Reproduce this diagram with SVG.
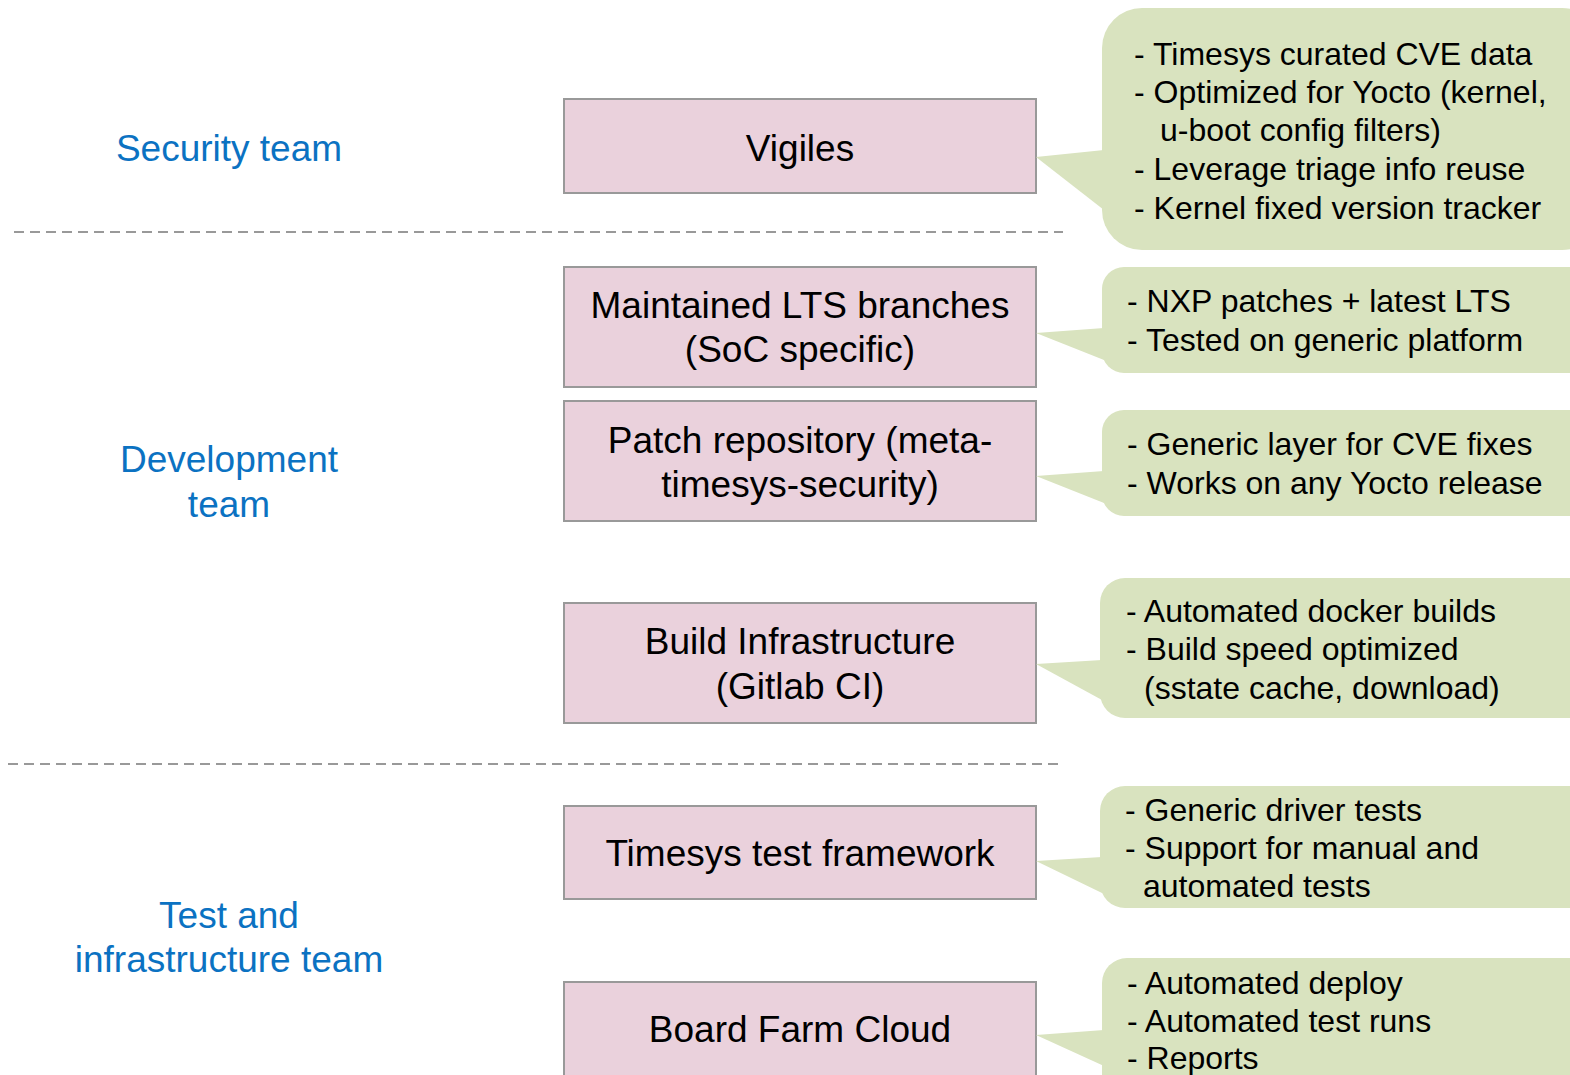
<svg xmlns="http://www.w3.org/2000/svg" width="1570" height="1075" viewBox="0 0 1570 1075">
<style>
.node{fill:#ead1dc;stroke:#999999;stroke-width:2}
.call{fill:#d9e3bf;stroke:none}
.nt{font-family:"Liberation Sans",Arial,sans-serif;font-size:37px;fill:#000;text-anchor:middle}
.ct{font-family:"Liberation Sans",Arial,sans-serif;font-size:32px;fill:#000}
.team{font-family:"Liberation Sans",Arial,sans-serif;font-size:37px;fill:#0b72c2;text-anchor:middle}
.sep{stroke:#999999;stroke-width:2;stroke-dasharray:10 6;fill:none}
</style>
<rect width="1570" height="1075" fill="#ffffff"/>
<g id="connectors">
<line class="sep" x1="14" y1="232" x2="1063" y2="232"/>
<line class="sep" x1="8" y1="764" x2="1058" y2="764"/>
</g>
<g id="team-security"><text class="team" x="229" y="161">Security team</text></g>
<g id="team-development"><text class="team" x="229" y="472">Development</text><text class="team" x="229" y="517">team</text></g>
<g id="team-test"><text class="team" x="229" y="928">Test and</text><text class="team" x="229" y="972">infrastructure team</text></g>

<g id="node-vigiles"><rect class="node" x="564" y="99" width="472" height="94"/><text class="nt" x="800" y="161">Vigiles</text></g>
<g id="node-lts"><rect class="node" x="564" y="267" width="472" height="120"/><text class="nt" x="800" y="318">Maintained LTS branches</text><text class="nt" x="800" y="362">(SoC specific)</text></g>
<g id="node-patch"><rect class="node" x="564" y="401" width="472" height="120"/><text class="nt" x="800" y="453">Patch repository (meta-</text><text class="nt" x="800" y="497">timesys-security)</text></g>
<g id="node-build"><rect class="node" x="564" y="603" width="472" height="120"/><text class="nt" x="800" y="654">Build Infrastructure</text><text class="nt" x="800" y="699">(Gitlab CI)</text></g>
<g id="node-testfw"><rect class="node" x="564" y="806" width="472" height="93"/><text class="nt" x="800" y="866">Timesys test framework</text></g>
<g id="node-boardfarm"><rect class="node" x="564" y="982" width="472" height="100"/><text class="nt" x="800" y="1042">Board Farm Cloud</text></g>

<g id="callout-vigiles">
<rect class="call" x="1102" y="8" width="500" height="242" rx="40" ry="40"/>
<polygon class="call" points="1104,150 1036,157 1104,210"/>
<text class="ct" x="1134" y="65">- Timesys curated CVE data</text>
<text class="ct" x="1134" y="103">- Optimized for Yocto (kernel,</text>
<text class="ct" x="1160" y="141">u-boot config filters)</text>
<text class="ct" x="1134" y="180">- Leverage triage info reuse</text>
<text class="ct" x="1134" y="219">- Kernel fixed version tracker</text>
</g>
<g id="callout-lts">
<rect class="call" x="1102" y="267" width="500" height="106" rx="22" ry="22"/>
<polygon class="call" points="1104,328 1036,333 1104,360"/>
<text class="ct" x="1127" y="312">- NXP patches + latest LTS</text>
<text class="ct" x="1127" y="351">- Tested on generic platform</text>
</g>
<g id="callout-patch">
<rect class="call" x="1102" y="410" width="500" height="106" rx="22" ry="22"/>
<polygon class="call" points="1104,471 1036,476 1104,503"/>
<text class="ct" x="1127" y="455">- Generic layer for CVE fixes</text>
<text class="ct" x="1127" y="494">- Works on any Yocto release</text>
</g>
<g id="callout-build">
<rect class="call" x="1100" y="578" width="500" height="140" rx="25" ry="25"/>
<polygon class="call" points="1102,660 1036,664 1102,700"/>
<text class="ct" x="1126" y="622">- Automated docker builds</text>
<text class="ct" x="1126" y="660">- Build speed optimized</text>
<text class="ct" x="1144" y="699">(sstate cache, download)</text>
</g>
<g id="callout-testfw">
<rect class="call" x="1100" y="786" width="500" height="122" rx="25" ry="25"/>
<polygon class="call" points="1102,857 1036,861 1102,893"/>
<text class="ct" x="1125" y="821">- Generic driver tests</text>
<text class="ct" x="1125" y="859">- Support for manual and</text>
<text class="ct" x="1143" y="897">automated tests</text>
</g>
<g id="callout-boardfarm">
<rect class="call" x="1102" y="958" width="500" height="140" rx="25" ry="25"/>
<polygon class="call" points="1104,1030 1036,1035 1104,1066"/>
<text class="ct" x="1127" y="994">- Automated deploy</text>
<text class="ct" x="1127" y="1032">- Automated test runs</text>
<text class="ct" x="1127" y="1069">- Reports</text>
</g>
</svg>
